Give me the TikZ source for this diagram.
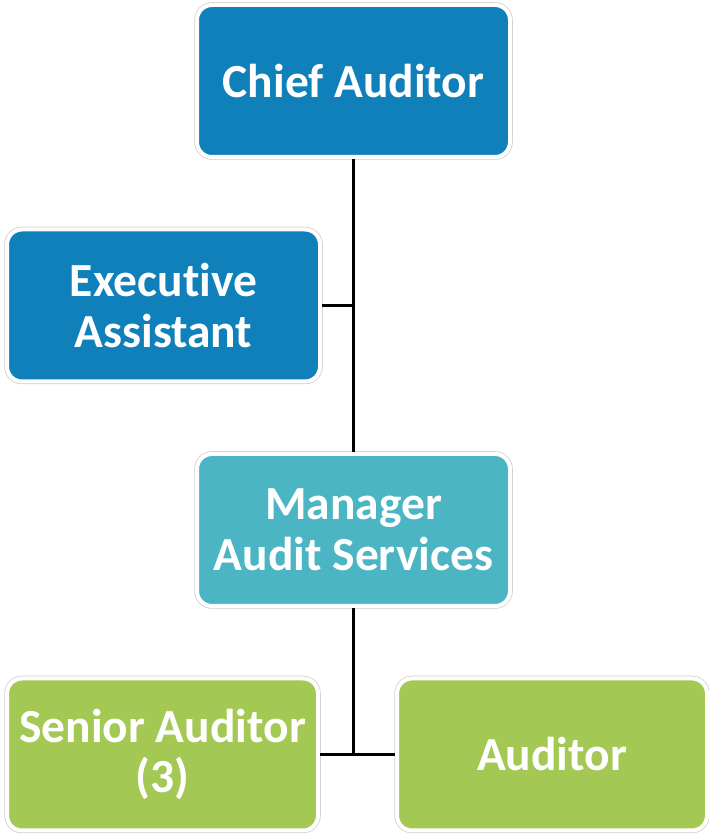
\documentclass[tikz,border=0pt]{standalone}
\usepackage{fontspec}
\setmainfont{Carlito}[Ligatures=NoCommon]
\definecolor{cblue}{RGB}{16,128,186}
\definecolor{cteal}{RGB}{75,181,196}
\definecolor{cgreen}{RGB}{163,200,83}
\definecolor{crim}{RGB}{205,205,205}
\begin{document}
\begin{tikzpicture}[x=1pt,y=1pt,
  orgbox/.style={rectangle, rounded corners=15pt, minimum width=313pt, minimum height=152pt,
    inner sep=0pt, draw=white, line width=4pt, text=white, align=center,
    font=\fontsize{47.5}{50.5}\selectfont\bfseries,
    preaction={draw=crim, line width=5.5pt}},
  link/.style={draw=black, line width=3pt}]
\useasboundingbox (0,0) rectangle (709,836);
\node[orgbox, fill=cblue] (chief) at (353.5,755) {Chief Auditor};
\node[orgbox, fill=cblue] (exec) at (163.5,530.5) {Executive\\Assistant};
\node[orgbox, fill=cteal] (mgr) at (353.5,306) {Manager\\Audit Services};
\node[orgbox, fill=cgreen, minimum width=311pt] (sen) at (162.5,81.5) {Senior Auditor\\(3)};
\node[orgbox, fill=cgreen, minimum width=310pt] (aud) at (552,81.5) {Auditor};
\draw[link] (chief.south) -- (mgr.north);
\draw[link] (exec.east) -- (exec.east -| chief.south);
\draw[link] (mgr.south) -- (mgr.south |- sen.east);
\draw[link] (sen.east) -- (aud.west);
\end{tikzpicture}
\end{document}
